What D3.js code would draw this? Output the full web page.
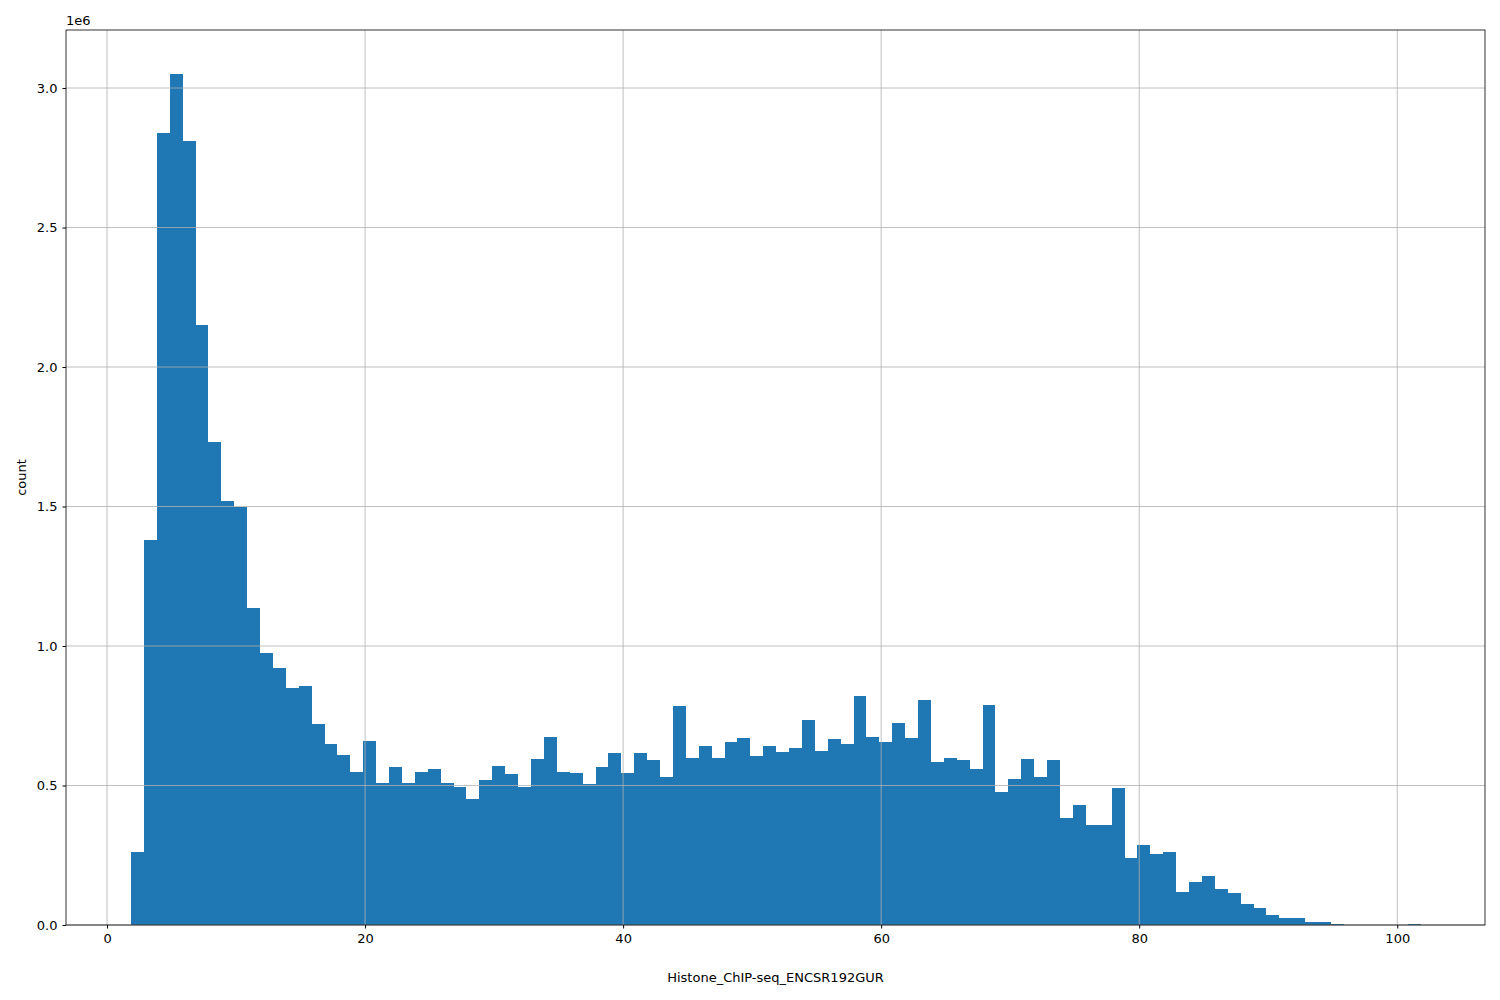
<!DOCTYPE html>
<html><head><meta charset="utf-8">
<script src="https://cdn.jsdelivr.net/npm/d3@7"></script>
<style>body{margin:0;background:#fff}</style></head>
<body><svg id="c" width="1500" height="1000"></svg>
<script>
const binStart = 1.86, binWidth = 1.0;
const counts = [0.26,1.38,2.84,3.05,2.81,2.15,1.73,1.52,1.50,1.135,0.975,0.92,0.85,0.855,0.72,0.65,0.61,0.55,0.66,0.51,
0.565,0.51,0.55,0.56,0.51,0.495,0.45,0.52,0.57,0.54,0.495,0.595,0.675,0.55,0.545,0.505,0.565,0.615,0.545,0.615,
0.59,0.53,0.785,0.60,0.64,0.60,0.655,0.67,0.605,0.64,0.62,0.635,0.735,0.625,0.665,0.65,0.82,0.675,0.655,0.725,
0.67,0.805,0.585,0.60,0.59,0.56,0.79,0.475,0.525,0.595,0.53,0.59,0.385,0.43,0.36,0.36,0.49,0.24,0.285,0.255,
0.26,0.12,0.155,0.175,0.13,0.115,0.075,0.06,0.035,0.025,0.025,0.012,0.012,0.004,0.001,0.0005,0.0005,0.0005,0.0005,0.005].map(v=>v*1e6);
const xTicks = [0,20,40,60,80,100];
const yTicks = [0,0.5e6,1e6,1.5e6,2e6,2.5e6,3e6];

const svg = d3.select("#c");
const L=66,R=1485,T=30,B=925;
const x = d3.scaleLinear().domain([-3.18,106.8]).range([L,R]);
const y = d3.scaleLinear().domain([0,3.208e6]).range([B,T]);
const g = svg.append("g");
g.selectAll("rect").data(counts).join("rect")
 .attr("x",(d,i)=>x(binStart+i*binWidth)).attr("width",(d,i)=>x(binStart+(i+1)*binWidth)-x(binStart+i*binWidth))
 .attr("y",d=>y(d)).attr("height",d=>B-y(d)).attr("fill","#1f77b4").attr("shape-rendering","crispEdges");
const grid = svg.append("g").attr("stroke","#b0b0b0").attr("stroke-width",0.8);
xTicks.forEach(t=>grid.append("line").attr("x1",x(t)).attr("x2",x(t)).attr("y1",T).attr("y2",B));
yTicks.forEach(t=>grid.append("line").attr("x1",L).attr("x2",R).attr("y1",y(t)).attr("y2",y(t)));
const xa = svg.append("g").attr("transform",`translate(0,${B})`).call(d3.axisBottom(x).tickValues(xTicks).tickSizeOuter(0).tickSize(3.5).tickPadding(5));
const ya = svg.append("g").attr("transform",`translate(${L},0)`).call(d3.axisLeft(y).tickValues(yTicks).tickFormat(d=>(d/1e6).toFixed(1)).tickSizeOuter(0).tickSize(3.5).tickPadding(5));
[xa,ya].forEach(a=>{a.selectAll("text").attr("font-family","DejaVu Sans").attr("font-size",13).attr("fill","#000");a.select(".domain").remove();});
svg.append("rect").attr("x",L).attr("y",T).attr("width",R-L).attr("height",B-T).attr("fill","none").attr("stroke","#000").attr("stroke-width",0.8);
svg.append("text").attr("x",66).attr("y",25).text("1e6").attr("font-family","DejaVu Sans").attr("font-size",13);
svg.append("text").attr("x",(L+R)/2).attr("y",982).attr("text-anchor","middle").text("Histone_ChIP-seq_ENCSR192GUR").attr("font-family","DejaVu Sans").attr("font-size",13);
svg.append("text").attr("transform",`translate(26,${(T+B)/2}) rotate(-90)`).attr("text-anchor","middle").text("count").attr("font-family","DejaVu Sans").attr("font-size",13);
</script></body></html>
